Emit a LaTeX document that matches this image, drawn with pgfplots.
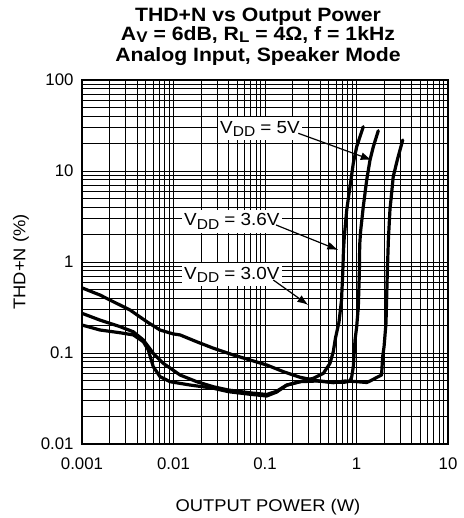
\documentclass[border=0pt]{standalone}
\usepackage{fontspec}
\setmainfont{Liberation Sans}
\newfontfamily\widefont[FakeStretch=1.08]{Liberation Sans}
\newfontfamily\titlefont[FakeStretch=1.1]{Liberation Sans}
\usepackage{pgfplots}
\pgfplotsset{compat=1.18}
\usetikzlibrary{arrows.meta}
\newcommand{\sub}[1]{\raisebox{-0.18em}{\scalebox{0.82}{#1}}}
\newcommand{\tsub}[1]{\raisebox{-0.1em}{\scalebox{0.8}{#1}}}

\pgfplotstableread{
x y
0.001 0.52
0.00157 0.434
0.0022 0.366
0.00335 0.297
0.0051 0.221
0.00712 0.179
0.00995 0.162
0.0118 0.158
0.0179 0.133
0.0272 0.113
0.0451 0.0951
0.0686 0.0838
0.1045 0.0738
0.1585 0.0624
0.2415 0.0541
0.367 0.0497
0.557 0.0472
0.748 0.0492
0.964 0.0486
1.294 0.0474
1.406 0.0492
1.66 0.0538
1.88 0.0573
1.93 0.091
2.0 0.117
2.10 0.212
2.17 0.75
2.23 1.75
2.32 3.73
2.52 8.65
2.79 13.2
3.2 21.9
}\vfive

\pgfplotstableread{
x y
0.001 0.273
0.00157 0.23
0.0026 0.195
0.00364 0.171
0.00468 0.139
0.00601 0.0993
0.00774 0.077
0.0118 0.0573
0.0179 0.0484
0.0272 0.0426
0.0397 0.0392
0.0686 0.0365
0.1045 0.035
0.134 0.038
0.1726 0.0445
0.2415 0.0484
0.367 0.0492
0.557 0.0478
0.748 0.0478
0.849 0.0492
0.887 0.055
0.923 0.0707
0.964 0.139
1.005 0.195
1.047 0.323
1.074 0.75
1.084 1.54
1.107 2.14
1.186 4.05
1.292 7.96
1.405 13.2
1.527 18.5
1.73 27.7
}\vthreesix

\pgfplotstableread{
x y
0.001 0.203
0.00157 0.179
0.0026 0.167
0.00364 0.158
0.00468 0.133
0.0053 0.108
0.00601 0.0707
0.00712 0.055
0.00916 0.0484
0.0151 0.0445
0.0272 0.041
0.0397 0.0376
0.0686 0.0352
0.1045 0.0337
0.134 0.0372
0.1726 0.0442
0.2415 0.0484
0.337 0.0527
0.434 0.0598
0.513 0.077
0.557 0.103
0.589 0.146
0.644 0.219
0.686 0.382
0.707 0.75
0.721 1.355
0.736 1.9
0.782 3.73
0.849 6.72
0.923 12.2
1.005 18.5
1.186 30.7
}\vthree

\begin{document}
\begin{tikzpicture}
\path[use as bounding box] (0pt,0pt) rectangle (463pt,518pt);
\begin{axis}[
  at={(82pt,74pt)}, anchor=south west,
  scale only axis, width=366pt, height=364pt,
  xmode=log, ymode=log,
  xmin=0.001, xmax=10, ymin=0.01, ymax=100,
  xtick={0.001,0.01,0.1,1,10}, xticklabels={0.001,0.01,0.1,1,10},
  ytick={0.01,0.1,1,10,100}, yticklabels={0.01,0.1,1,10,100},
  grid=both,
  major grid style={black, line width=1pt},
  minor grid style={black, line width=1pt},
  major tick length=0pt, minor tick length=0pt,
  axis line style={black, line width=1.4pt},
  tick label style={font=\fontsize{16.8}{16.8}\selectfont, text=black},
  xticklabel style={yshift=-10pt},
  yticklabel style={xshift=-5pt},
  xlabel={OUTPUT POWER (W)},
  ylabel={THD+N (\%)},
  xlabel style={font=\widefont\fontsize{17}{17}\selectfont, at={(axis description cs:0.508,-0.186)}, anchor=base},
  ylabel style={font=\widefont\fontsize{17}{17}\selectfont, at={(axis description cs:-0.155,0.5)}, anchor=base},
  clip=true,
]
\addplot[black, line width=3.2pt, line join=round, line cap=round] table[x=x,y=y] {\vfive};
\addplot[black, line width=3.2pt, line join=round, line cap=round] table[x=x,y=y] {\vthreesix};
\addplot[black, line width=3.2pt, line join=round, line cap=round] table[x=x,y=y] {\vthree};
\end{axis}
% title
\node[font=\titlefont\bfseries\fontsize{19.3}{20}\selectfont, anchor=base, inner sep=0pt] at (258pt,496.5pt) {THD+N vs Output Power};
\node[font=\titlefont\bfseries\fontsize{19.3}{20}\selectfont, anchor=base, inner sep=0pt] at (258pt,477pt) {A\tsub{V} = 6dB, R\tsub{L} = 4Ω, f = 1kHz};
\node[font=\titlefont\bfseries\fontsize{19.3}{20}\selectfont, anchor=base, inner sep=0pt] at (258pt,456.5pt) {Analog Input, Speaker Mode};
% annotations
\tikzset{lab/.style={font=\widefont\fontsize{17.5}{17.5}\selectfont, fill=white, inner xsep=2pt, inner ysep=4pt, anchor=base west}}
\node[lab] at (218pt,384.7pt) {V\sub{DD} = 5V};
\node[lab] at (182pt,292pt) {V\sub{DD} = 3.6V};
\node[lab] at (182pt,238.7pt) {V\sub{DD} = 3.0V};
\draw[line width=1.2pt, -{Latex[length=11pt,width=8pt]}] (298.3pt,384.7pt) -- (371.7pt,358pt);
\draw[line width=1.2pt, -{Latex[length=11pt,width=8pt]}] (276pt,293pt) -- (338.3pt,268pt);
\draw[line width=1.2pt, -{Latex[length=11pt,width=8pt]}] (273.3pt,238pt) -- (308.3pt,213pt);
\end{tikzpicture}
\end{document}
